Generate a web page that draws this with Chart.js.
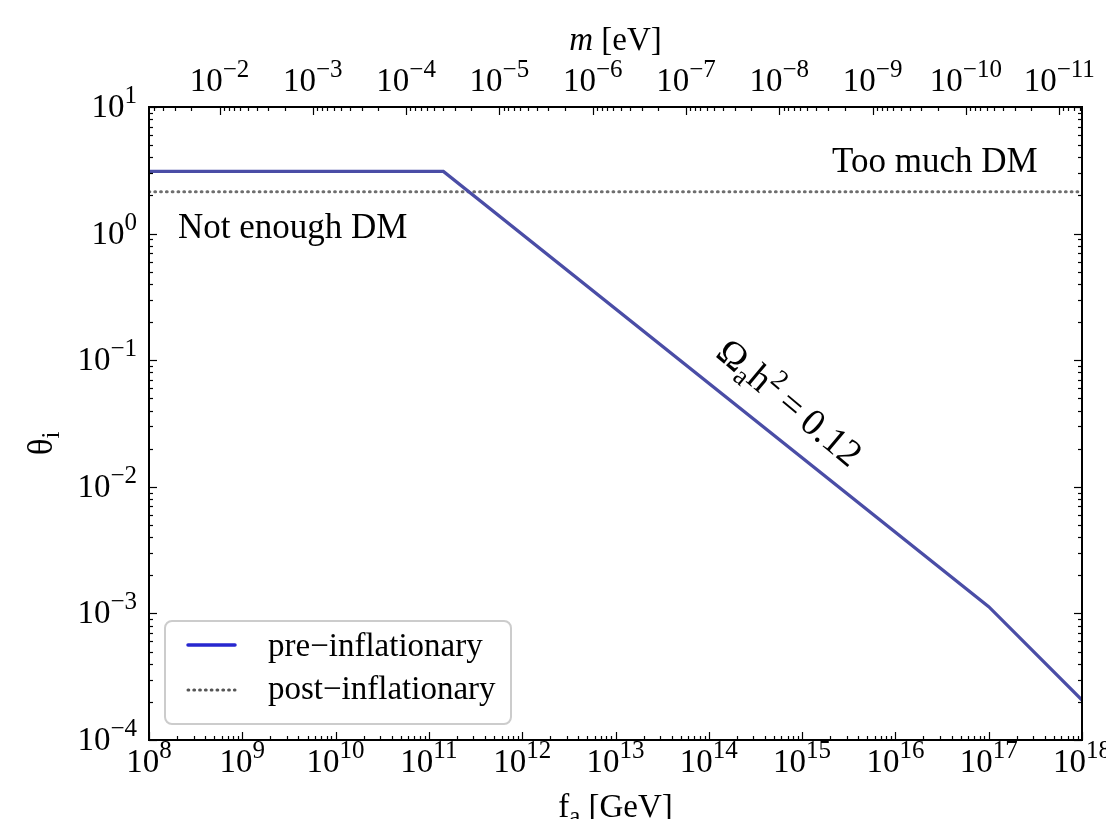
<!DOCTYPE html>
<html><head><meta charset="utf-8">
<script src="https://cdn.jsdelivr.net/npm/chart.js@4.4.0/dist/chart.umd.min.js"></script>
<style>html,body{margin:0;padding:0;background:#fff;overflow:hidden}canvas{display:block}</style>
</head><body><canvas id="c" width="1106" height="819"></canvas>
<script>
// ---- data ----
const faPre = [1e8, 1.43e11, 1e17, 1e18];
const thetaPre = [3.1, 3.1, 1.13e-3, 2.07e-4];
const faPost = [1e8, 1e18];
const thetaPost = [2.14, 2.14];
const xTickExps = [8, 9, 10, 11, 12, 13, 14, 15, 16, 17, 18];
const yTickExps = [-4, -3, -2, -1, 0, 1];
const mTickExps = [-2, -3, -4, -5, -6, -7, -8, -9, -10, -11];
const mFaProduct = 5.7e6; // m[eV] * f_a[GeV]
const seriesLabels = ['pre\u2212inflationary', 'post\u2212inflationary'];

// ---- style ----
const SERIF = '"Liberation Serif","Times New Roman",serif';
const TICK = 33, SUP = 25;
const preColor = '#4a4da6', postColor = '#6e6e6e';
function f(sz, st) { return (st || '') + ' ' + sz + 'px ' + SERIF; }
function drawRuns(ctx, runs, x, y, align) {
  let total = 0;
  runs.forEach(r => { ctx.font = f(r.size, r.italic ? 'italic' : ''); r.w = ctx.measureText(r.t).width; total += r.w; });
  let cx = align === 'center' ? x - total / 2 : align === 'right' ? x - total : x;
  ctx.textAlign = 'left'; ctx.textBaseline = 'alphabetic';
  runs.forEach(r => { ctx.font = f(r.size, r.italic ? 'italic' : ''); ctx.fillText(r.t, cx, y + (r.dy || 0)); cx += r.w; });
  return total;
}
function pow10(e) { return [{ t: '10', size: TICK }, { t: String(e).replace('-', '\u2212'), size: SUP, dy: -14 }]; }
function logVals(min, max) {
  const out = [];
  for (let e = Math.floor(Math.log10(min)) - 1; e <= Math.ceil(Math.log10(max)); e++) {
    for (let k = 1; k <= 9; k++) {
      const v = k * Math.pow(10, e);
      if (v >= min * 0.9999 && v <= max * 1.0001) out.push({ v, major: k === 1 });
    }
  }
  return out;
}

const deco = {
  id: 'deco',
  beforeDraw(chart) {
    const ctx = chart.ctx; ctx.save(); ctx.fillStyle = '#fff'; ctx.fillRect(0, 0, chart.width, chart.height); ctx.restore();
  },
  afterDraw(chart) {
    const ctx = chart.ctx, a = chart.chartArea;
    const xs = chart.scales.x, ys = chart.scales.y, ms = chart.scales.m;
    ctx.save();
    ctx.strokeStyle = '#000'; ctx.lineWidth = 1.2;
    logVals(xs.min, xs.max).forEach(t => {
      const p = Math.round(xs.getPixelForValue(t.v)) + 0.5, L = t.major ? 8 : 4;
      ctx.beginPath(); ctx.moveTo(p, a.bottom); ctx.lineTo(p, a.bottom - L); ctx.stroke();
    });
    logVals(ms.min, ms.max).forEach(t => {
      const p = Math.round(ms.getPixelForValue(t.v)) + 0.5, L = t.major ? 8 : 4;
      ctx.beginPath(); ctx.moveTo(p, a.top); ctx.lineTo(p, a.top + L); ctx.stroke();
    });
    logVals(ys.min, ys.max).forEach(t => {
      const p = Math.round(ys.getPixelForValue(t.v)) + 0.5, L = t.major ? 8 : 4;
      ctx.beginPath(); ctx.moveTo(a.left, p); ctx.lineTo(a.left + L, p); ctx.stroke();
      ctx.beginPath(); ctx.moveTo(a.right, p); ctx.lineTo(a.right - L, p); ctx.stroke();
    });
    ctx.lineWidth = 2;
    ctx.strokeRect(a.left, a.top, a.right - a.left, a.bottom - a.top);
    ctx.fillStyle = '#000';
    xTickExps.forEach(e => drawRuns(ctx, pow10(e), xs.getPixelForValue(Math.pow(10, e)), a.bottom + 32, 'center'));
    yTickExps.forEach(e => drawRuns(ctx, pow10(e), a.left - 12, ys.getPixelForValue(Math.pow(10, e)) + 10, 'right'));
    mTickExps.forEach(e => drawRuns(ctx, pow10(e), ms.getPixelForValue(Math.pow(10, e)), a.top - 16, 'center'));
    const cxm = (a.left + a.right) / 2;
    drawRuns(ctx, [{ t: 'm', size: TICK, italic: true }, { t: ' [eV]', size: TICK }], cxm, 50, 'center');
    drawRuns(ctx, [{ t: 'f', size: TICK }, { t: 'a', size: SUP, dy: 7 }, { t: ' [GeV]', size: TICK }], cxm, 817, 'center');
    ctx.save(); ctx.translate(52, (a.top + a.bottom) / 2 + 20); ctx.rotate(-Math.PI / 2);
    drawRuns(ctx, [{ t: '\u03b8', size: 35 }, { t: 'i', size: SUP, dy: 7 }], 0, 0, 'center');
    ctx.restore();
    drawRuns(ctx, [{ t: 'Not enough DM', size: 35 }], 178, 238, 'left');
    drawRuns(ctx, [{ t: 'Too much DM', size: 35 }], 832, 172, 'left');
    ctx.save(); ctx.translate(790, 402); ctx.rotate(40 * Math.PI / 180);
    drawRuns(ctx, [{ t: '\u03a9', size: 38 }, { t: 'a', size: 27, dy: 7 }, { t: 'h', size: 38 }, { t: '2', size: 27, dy: -15 }, { t: '\u2009=\u20090.12', size: 38 }], 0, 13, 'center');
    ctx.restore();
    ctx.beginPath(); ctx.roundRect(165, 621, 346, 103, 7);
    ctx.fillStyle = '#fff'; ctx.fill(); ctx.lineWidth = 2; ctx.strokeStyle = '#cccccc'; ctx.stroke();
    ctx.lineCap = 'round';
    ctx.strokeStyle = '#2727cf'; ctx.lineWidth = 3.5;
    ctx.beginPath(); ctx.moveTo(188, 645); ctx.lineTo(235, 645); ctx.stroke();
    ctx.strokeStyle = '#555'; ctx.lineWidth = 3; ctx.setLineDash([0.8, 5]);
    ctx.beginPath(); ctx.moveTo(188, 690); ctx.lineTo(235, 690); ctx.stroke();
    ctx.setLineDash([]);
    ctx.fillStyle = '#000';
    drawRuns(ctx, [{ t: seriesLabels[0], size: 33 }], 268, 656, 'left');
    drawRuns(ctx, [{ t: seriesLabels[1], size: 33 }], 268, 699, 'left');
    ctx.restore();
  }
};

new Chart(document.getElementById('c'), {
  type: 'line',
  data: {
    datasets: [
      { label: seriesLabels[0], data: faPre.map((x, i) => ({ x, y: thetaPre[i] })), borderColor: preColor, borderWidth: 3.2, pointRadius: 0, tension: 0, xAxisID: 'x', yAxisID: 'y' },
      { label: seriesLabels[1], data: faPost.map((x, i) => ({ x, y: thetaPost[i] })), borderColor: postColor, borderWidth: 3, borderDash: [0.8, 5], borderCapStyle: 'round', pointRadius: 0, tension: 0, xAxisID: 'x', yAxisID: 'y' }
    ]
  },
  options: {
    responsive: false, animation: false, devicePixelRatio: 1,
    layout: { padding: { left: 149, right: 24, top: 107, bottom: 79 } },
    plugins: { legend: { display: false }, tooltip: { enabled: false } },
    scales: {
      x: { type: 'logarithmic', min: 1e8, max: 1e18, display: false },
      m: { type: 'logarithmic', axis: 'x', position: 'top', min: mFaProduct / 1e18, max: mFaProduct / 1e8, reverse: true, display: false },
      y: { type: 'logarithmic', min: 1e-4, max: 10, display: false }
    }
  },
  plugins: [deco]
});
</script></body></html>
